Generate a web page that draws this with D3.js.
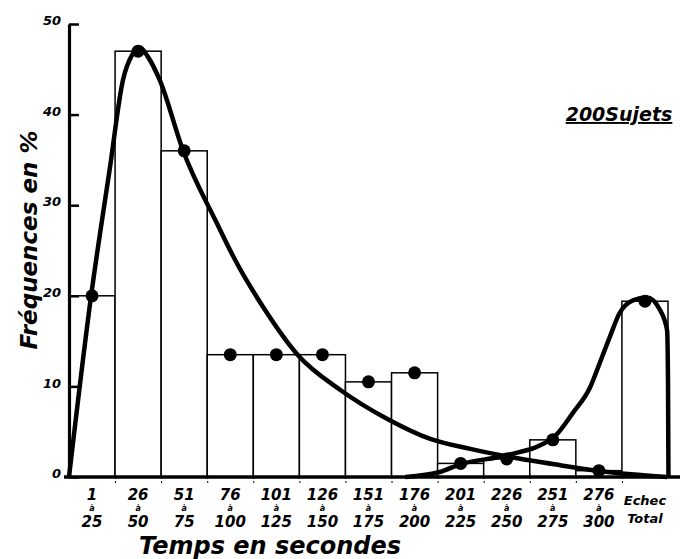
<!DOCTYPE html>
<html><head><meta charset="utf-8">
<script src="https://cdn.jsdelivr.net/npm/d3@7"></script>
<style>body{margin:0;background:#fff}text{font-family:"DejaVu Sans",sans-serif;font-weight:bold;font-style:italic;fill:#000}</style>
</head><body>
<script>
const categories = ["1-25","26-50","51-75","76-100","101-125","126-150","151-175","176-200","201-225","226-250","251-275","276-300","Echec Total"];
const labelTop = ["1","26","51","76","101","126","151","176","201","226","251","276","Echec"];
const labelBottom = ["25","50","75","100","125","150","175","200","225","250","275","300","Total"];
const values = [20, 47, 36, 13.5, 13.5, 13.5, 10.5, 11.5, 1.5, 2, 4.1, 0.7, 19.4];
const yTicks = [0, 10, 20, 30, 40, 50];
// smooth curves, x in category units (bar i spans i..i+1), y in %
const curve1X = [0, 0.48, 0.89, 1.17, 1.37, 1.54, 1.71, 1.97, 2.47, 3.21, 3.58, 4.22, 4.96, 5.89, 6.91, 7.84, 8.71, 9.58, 10.66, 11.46, 12.2, 12.98];
const curve1Y = [0, 20, 34.2, 43.8, 46.6, 47.4, 46.4, 43.8, 36.1, 28.0, 24.2, 18.7, 13.5, 9.6, 6.4, 4.2, 3.1, 2.2, 1.3, 0.7, 0.3, 0];
const curve2X = [7.3, 8.05, 8.49, 9.5, 10.5, 10.94, 11.31, 11.52, 11.74, 11.95, 12.24, 12.54, 12.83, 12.98, 13.0, 13.01];
const curve2Y = [0, 0.55, 1.4, 2.4, 4.3, 7.1, 9.9, 12.6, 15.5, 18.1, 19.5, 19.8, 18.4, 16.2, 10.7, 0];

const W = 682, H = 559;
const svg = d3.select("body").append("svg").attr("width", W).attr("height", H);
const x = d3.scaleLinear().domain([0, 13]).range([69, 668]);
const y = d3.scaleLinear().domain([0, 50]).range([477, 24]);

// bars
svg.append("g").selectAll("rect").data(values).join("rect")
  .attr("x", (d, i) => x(i)).attr("width", x(1) - x(0))
  .attr("y", d => y(d)).attr("height", d => y(0) - y(d))
  .attr("fill", "#fff").attr("stroke", "#000").attr("stroke-width", 1.5);

// curves
const line = d3.line().x(d => x(d[0])).y(d => y(d[1])).curve(d3.curveMonotoneX);
svg.append("path").datum(curve1X.map((v, i) => [v, curve1Y[i]]))
  .attr("d", line).attr("fill", "none").attr("stroke", "#000").attr("stroke-width", 4.5).attr("stroke-linejoin", "round");
svg.append("path").datum(curve2X.map((v, i) => [v, curve2Y[i]]))
  .attr("d", line).attr("fill", "none").attr("stroke", "#000").attr("stroke-width", 4.5).attr("stroke-linejoin", "round");

// dots
svg.append("g").selectAll("circle").data(values).join("circle")
  .attr("cx", (d, i) => x(i + 0.5)).attr("cy", d => y(d)).attr("r", 6.5).attr("fill", "#000");

// y axis
const yAxis = d3.axisLeft(y).tickValues(yTicks).tickSizeInner(-10).tickSizeOuter(0).tickPadding(8);
const gy = svg.append("g").attr("transform", `translate(${x(0)},0)`).call(yAxis);
gy.attr("font-family", null);
gy.select(".domain").attr("stroke-width", 3.2);
gy.selectAll(".tick line").attr("stroke-width", 2.5);
gy.selectAll(".tick text").attr("dy", "0.05em").style("font-size", "13px");

// x axis baseline
const xAxis = d3.axisBottom(x).tickValues(d3.range(1, 13)).tickSizeInner(6).tickSizeOuter(0).tickFormat("");
const gx = svg.append("g").attr("transform", `translate(0,${y(0)})`).call(xAxis);
gx.select(".domain").remove();
gx.selectAll(".tick line").attr("stroke-width", 1).attr("stroke-dasharray", "2,2");
svg.append("line").attr("x1", x(0) - 5).attr("x2", x(13) + 12).attr("y1", y(0)).attr("y2", y(0))
  .attr("stroke", "#000").attr("stroke-width", 3.5);

// category labels
const gl = svg.append("g");
categories.forEach((c, i) => {
  const cx = x(i + 0.5);
  if (i < 12) {
    gl.append("text").attr("x", cx).attr("y", 500).attr("text-anchor", "middle").attr("font-size", 15).text(labelTop[i]);
    gl.append("text").attr("x", cx).attr("y", 511).attr("text-anchor", "middle").attr("font-size", 8).text("à");
    gl.append("text").attr("x", cx).attr("y", 527).attr("text-anchor", "middle").attr("font-size", 15).text(labelBottom[i]);
  } else {
    gl.append("text").attr("x", cx).attr("y", 505).attr("text-anchor", "middle").attr("font-size", 13).text(labelTop[i]);
    gl.append("text").attr("x", cx).attr("y", 523).attr("text-anchor", "middle").attr("font-size", 13).text(labelBottom[i]);
  }
});

// titles
svg.append("text").attr("x", 270).attr("y", 554).attr("text-anchor", "middle").attr("font-size", 24).text("Temps en secondes");
svg.append("text").attr("transform", "translate(37,240) rotate(-90)").attr("text-anchor", "middle").attr("font-size", 23).text("Fréquences en %");
svg.append("text").attr("x", 619).attr("y", 121).attr("text-anchor", "middle").attr("font-size", 19).attr("text-decoration", "underline").text("200Sujets");
</script>
</body></html>
